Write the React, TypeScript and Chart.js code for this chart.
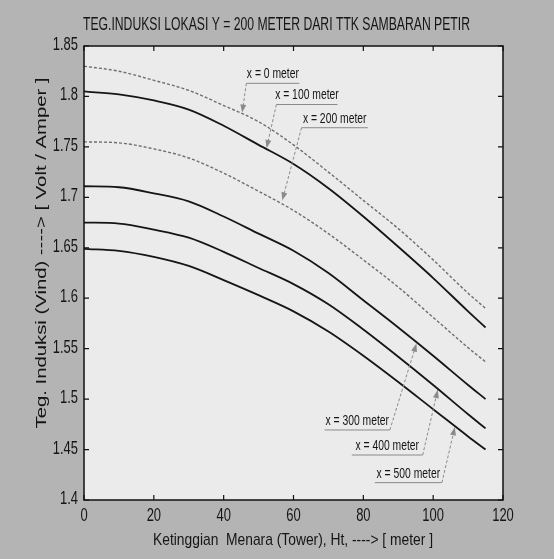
import React, { useEffect, useRef } from "react";
import { Chart, registerables } from "chart.js";

Chart.register(...registerables);

const X_VALUES = [0, 10, 20, 30, 40, 50, 60, 70, 80, 90, 100, 110, 115];
const SERIES_LABELS = ["x = 0 meter", "x = 100 meter", "x = 200 meter", "x = 300 meter", "x = 400 meter", "x = 500 meter"];
const X0 = [1.830, 1.825, 1.816, 1.806, 1.791, 1.775, 1.752, 1.725, 1.697, 1.669, 1.638, 1.605, 1.590];
const X100 = [1.805, 1.802, 1.796, 1.787, 1.771, 1.752, 1.733, 1.709, 1.681, 1.651, 1.620, 1.587, 1.571];
const X200 = [1.755, 1.754, 1.748, 1.739, 1.724, 1.706, 1.687, 1.664, 1.638, 1.611, 1.581, 1.551, 1.537];
const X300 = [1.711, 1.710, 1.704, 1.696, 1.681, 1.664, 1.647, 1.625, 1.598, 1.571, 1.543, 1.514, 1.500];
const X400 = [1.675, 1.674, 1.668, 1.660, 1.646, 1.630, 1.614, 1.594, 1.569, 1.542, 1.514, 1.485, 1.471];
const X500 = [1.649, 1.647, 1.641, 1.632, 1.618, 1.603, 1.587, 1.567, 1.543, 1.517, 1.490, 1.463, 1.450];
const SERIES = [X0, X100, X200, X300, X400, X500];
const DASHED = [true, false, true, false, false, false];
const X_TICKS = [0, 20, 40, 60, 80, 100, 120];
const Y_TICKS = [1.4, 1.45, 1.5, 1.55, 1.6, 1.65, 1.7, 1.75, 1.8, 1.85];

const TITLE = "TEG.INDUKSI LOKASI Y = 200 METER DARI TTK SAMBARAN PETIR";
const X_TITLE = "Ketinggian  Menara (Tower), Ht, ----> [ meter ]";
const Y_TITLE = "Teg. Induksi (Vind) ----> [ Volt / Amper ]";

// annotation callouts in data units: underline x-range, underline y, arrow tip
const CALLOUTS = [
  { text: SERIES_LABELS[0], x1: 46.5, x2: 61.7, y: 1.813, from: "left", tx: 45.3, ty: 1.784 },
  { text: SERIES_LABELS[1], x1: 55.1, x2: 72.6, y: 1.792, from: "left", tx: 52.3, ty: 1.749 },
  { text: SERIES_LABELS[2], x1: 62.3, x2: 81.3, y: 1.769, from: "left", tx: 56.8, ty: 1.697 },
  { text: SERIES_LABELS[3], x1: 68.9, x2: 87.6, y: 1.4694, from: "right", tx: 95.2, ty: 1.555 },
  { text: SERIES_LABELS[4], x1: 76.7, x2: 97.0, y: 1.4446, from: "right", tx: 101.3, ty: 1.509 },
  { text: SERIES_LABELS[5], x1: 83.3, x2: 102.5, y: 1.4172, from: "right", tx: 106.2, ty: 1.472 },
];

const SANS = "'Liberation Sans', Arial, sans-serif";

function drawText(ctx: any, text: string, x: number, y: number, size: number, sx: number, align: string, fitWidth?: number) {
  ctx.save();
  ctx.font = `${size}px ${SANS}`;
  let scale = sx;
  if (fitWidth) scale = fitWidth / ctx.measureText(text).width;
  ctx.translate(x, y);
  ctx.scale(scale, 1);
  ctx.textAlign = align;
  ctx.textBaseline = "middle";
  ctx.fillText(text, 0, 0);
  ctx.restore();
}

const decorPlugin = {
  id: "decor",
  beforeDraw(chart: any) {
    const { ctx, chartArea: a, width, height } = chart;
    ctx.save();
    ctx.fillStyle = "#b4b4b4";
    ctx.fillRect(0, 0, width, height);
    ctx.fillStyle = "#ebebeb";
    ctx.fillRect(a.left, a.top, a.right - a.left, a.bottom - a.top);
    ctx.restore();
  },
  afterDraw(chart: any) {
    const { ctx, chartArea: a, scales } = chart;
    const xs = scales.x, ys = scales.y;
    ctx.save();
    // frame
    ctx.strokeStyle = "#111";
    ctx.lineWidth = 1.5;
    ctx.strokeRect(a.left, a.top, a.right - a.left, a.bottom - a.top);
    // inward ticks + labels
    ctx.lineWidth = 1.2;
    ctx.fillStyle = "#151515";
    const tl = 5;
    X_TICKS.forEach((v) => {
      const px = xs.getPixelForValue(v);
      ctx.beginPath();
      ctx.moveTo(px, a.bottom); ctx.lineTo(px, a.bottom - tl);
      ctx.moveTo(px, a.top); ctx.lineTo(px, a.top + tl);
      ctx.stroke();
      drawText(ctx, String(v), px, a.bottom + 16, 18, 0.72, "center");
    });
    Y_TICKS.forEach((v) => {
      const py = ys.getPixelForValue(v);
      ctx.beginPath();
      ctx.moveTo(a.left, py); ctx.lineTo(a.left + tl, py);
      ctx.moveTo(a.right, py); ctx.lineTo(a.right - tl, py);
      ctx.stroke();
      drawText(ctx, String(Number(v.toFixed(2))), a.left - 6, py - 1, 18, 0.72, "right");
    });
    // titles
    drawText(ctx, TITLE, 276.5, 25, 19, 1, "center", 387);
    drawText(ctx, X_TITLE, 293, 540, 17, 1, "center", 280);
    ctx.save();
    ctx.translate(42, 253);
    ctx.rotate(-Math.PI / 2);
    drawText(ctx, Y_TITLE, 0, 0, 15, 1, "center", 351);
    ctx.restore();
    // callouts
    CALLOUTS.forEach((c) => {
      const x1 = xs.getPixelForValue(c.x1);
      const x2 = xs.getPixelForValue(c.x2);
      const y = ys.getPixelForValue(c.y);
      const tx = xs.getPixelForValue(c.tx);
      const ty = ys.getPixelForValue(c.ty);
      ctx.fillStyle = "#151515";
      drawText(ctx, c.text, (x1 + x2) / 2, y - 9, 14, 0.74, "center");
      ctx.strokeStyle = "#8a8a8a";
      ctx.lineWidth = 1;
      ctx.setLineDash([]);
      ctx.beginPath();
      ctx.moveTo(x1, y); ctx.lineTo(x2, y);
      ctx.stroke();
      const sx = c.from === "left" ? x1 : x2;
      ctx.setLineDash([3, 2]);
      ctx.beginPath();
      ctx.moveTo(sx, y); ctx.lineTo(tx, ty);
      ctx.stroke();
      ctx.setLineDash([]);
      const ang = Math.atan2(ty - y, tx - sx);
      const L = 8, W = 3;
      ctx.fillStyle = "#8a8a8a";
      ctx.beginPath();
      ctx.moveTo(tx, ty);
      ctx.lineTo(tx - L * Math.cos(ang) + W * Math.sin(ang), ty - L * Math.sin(ang) - W * Math.cos(ang));
      ctx.lineTo(tx - L * Math.cos(ang) - W * Math.sin(ang), ty - L * Math.sin(ang) + W * Math.cos(ang));
      ctx.closePath();
      ctx.fill();
    });
    ctx.restore();
  },
};

export default function App() {
  const ref = useRef<HTMLCanvasElement>(null);
  useEffect(() => {
    if (!ref.current) return;
    const datasets = SERIES.map((s, i) => ({
      label: SERIES_LABELS[i],
      data: X_VALUES.map((x, j) => ({ x, y: s[j] })),
      borderColor: DASHED[i] ? "#6e6e6e" : "#151515",
      borderWidth: DASHED[i] ? 1.4 : 1.8,
      borderDash: DASHED[i] ? [3, 2] : [],
      pointRadius: 0,
      cubicInterpolationMode: "monotone" as const,
      fill: false,
    }));
    const chart = new Chart(ref.current, {
      type: "line",
      data: { datasets },
      options: {
        responsive: false,
        animation: false,
        layout: { padding: { top: 46, right: 51, left: 0, bottom: 0 } },
        plugins: { legend: { display: false }, tooltip: { enabled: false }, title: { display: false } },
        scales: {
          x: {
            type: "linear",
            min: 0,
            max: 120,
            afterBuildTicks: (s: any) => { s.ticks = X_TICKS.map((v) => ({ value: v })); },
            afterFit: (s: any) => { s.height = 59; },
            grid: { display: false, drawTicks: false },
            border: { display: false },
            ticks: { display: false },
          },
          y: {
            type: "linear",
            min: 1.4,
            max: 1.85,
            afterBuildTicks: (s: any) => { s.ticks = Y_TICKS.map((v) => ({ value: v })); },
            afterFit: (s: any) => { s.width = 84; },
            grid: { display: false, drawTicks: false },
            border: { display: false },
            ticks: { display: false },
          },
        },
      },
      plugins: [decorPlugin],
    });
    return () => chart.destroy();
  }, []);
  return (
    <div style={{ position: "absolute", left: 0, top: 0, width: 554, height: 559 }}>
      <canvas ref={ref} width={554} height={559} style={{ display: "block" }} />
    </div>
  );
}
